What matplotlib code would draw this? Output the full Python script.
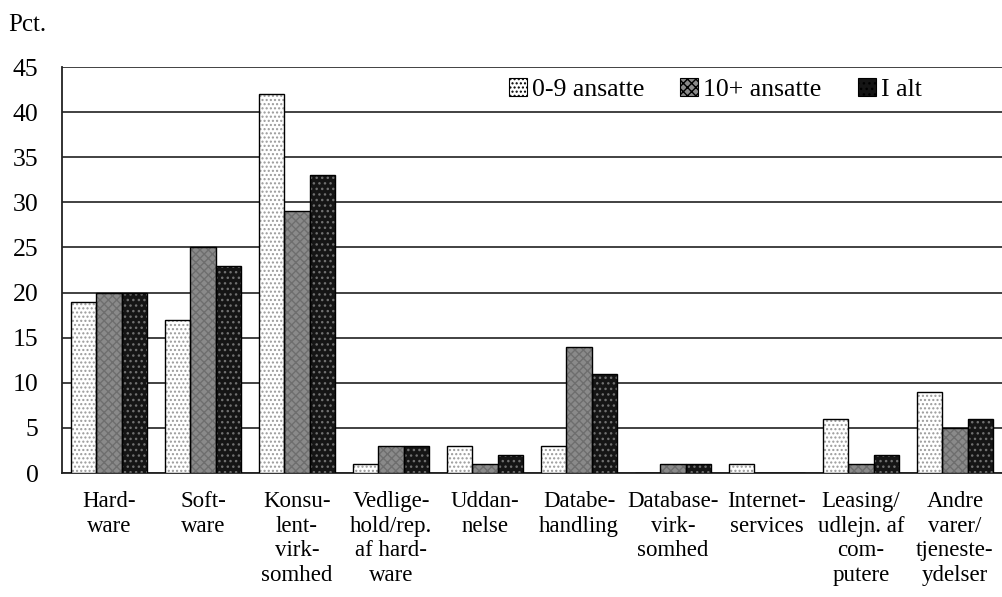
import numpy as np
import matplotlib
matplotlib.use("Agg")
import matplotlib.pyplot as plt

plt.rcParams['font.family'] = ['Liberation Serif', 'DejaVu Serif']

categories = ["Hard-\nware", "Soft-\nware", "Konsu-\nlent-\nvirk-\nsomhed",
              "Vedlige-\nhold/rep.\naf hard-\nware", "Uddan-\nnelse",
              "Databe-\nhandling", "Database-\nvirk-\nsomhed", "Internet-\nservices",
              "Leasing/\nudlejn. af\ncom-\nputere", "Andre\nvarer/\ntjeneste-\nydelser"]
small = [19, 17, 42, 1, 3, 3, 0, 1, 6, 9]
large = [20, 25, 29, 3, 1, 14, 1, 0, 1, 5]
total = [20, 23, 33, 3, 2, 11, 1, 0, 2, 6]
series_names = ["0-9 ansatte", "10+ ansatte", "I alt"]

styles = [
    dict(face="#ffffff", hatch="....", hcol="#9a9a9a"),
    dict(face="#8a8a8a", hatch="xxxx", hcol="#6e6e6e"),
    dict(face="#151515", hatch="...", hcol="#707070"),
]

fig = plt.figure(figsize=(10.02, 5.97), dpi=100)
ax = fig.add_axes([0.0619, 0.2077, 0.9381, 0.680])

x = np.arange(len(categories))
w = 0.8 / 3
handles = []
for i, (vals, st) in enumerate(zip([small, large, total], styles)):
    pos = x + (i - 1) * w
    ax.bar(pos, vals, w, color=st["face"], edgecolor=st["hcol"],
           hatch=st["hatch"], linewidth=0, zorder=3)
    ax.bar(pos, vals, w, fill=False, edgecolor="black", linewidth=1.0, zorder=4)
    handles.append(plt.Rectangle((0, 0), 1, 1, facecolor=st["face"],
                                 edgecolor="black", hatch=st["hatch"], linewidth=0.8))

ax.set_xlim(-0.5, len(categories) - 0.5)
ax.set_ylim(0, 45)
ax.set_yticks(range(0, 46, 5))
ax.yaxis.grid(True, color="#333333", linewidth=1.3, zorder=0)
ax.set_axisbelow(True)
for s in ["top", "right"]:
    ax.spines[s].set_visible(False)
for s in ["left", "bottom"]:
    ax.spines[s].set_color("#222222")
    ax.spines[s].set_linewidth(1.3)

ax.set_xticks(x)
ax.set_xticklabels(categories, fontsize=16.5, linespacing=1.22, va="top")
ax.tick_params(axis="x", length=0, pad=13)
ax.tick_params(axis="y", length=0, labelsize=18.5, pad=17)

fig.text(0.008, 0.948, "Pct.", fontsize=18, va="baseline")

ax.legend(handles, series_names, loc="center", bbox_to_anchor=(0.695, 0.945),
          ncol=3, frameon=False, fontsize=18.5, handlelength=0.7, handleheight=0.7,
          handletextpad=0.2, columnspacing=1.4)

fig.savefig("out.png", dpi=100)
